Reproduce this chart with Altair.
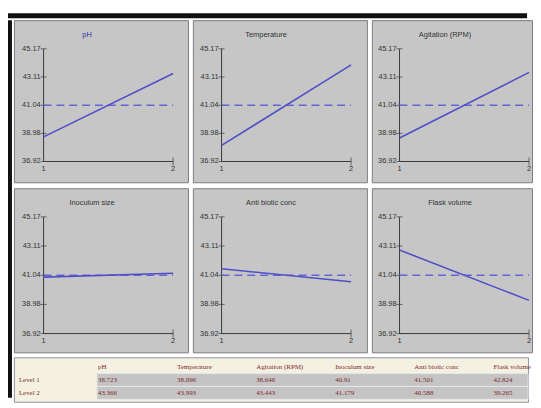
import altair as alt
import pandas as pd

# ---------------- data ----------------
factors = ["pH", "Temperature", "Agitation (RPM)", "Inoculum size", "Anti biotic conc", "Flask volume"]
level1 = [38.723, 38.096, 38.646, 40.91, 41.501, 42.824]
level2 = [43.366, 43.993, 43.443, 41.179, 40.588, 39.265]
grand_mean = 41.04
levels = [1, 2]
level_labels = ["1", "2"]
y_ticks = [36.92, 38.98, 41.04, 43.11, 45.17]
y_tick_labels = ["36.92", "38.98", "41.04", "43.11", "45.17"]
row_labels = ["Level 1", "Level 2"]

# ---------------- styles ----------------
PANEL_FILL = "#c6c6c6"
PANEL_STROKE = "#7c7c7c"
LINE_COL = "#4f4fc8"
MEAN_COL = "#6464d6"
AXIS_COL = "#3a3a3a"
SANS = "Liberation Sans, Arial, sans-serif"
SERIF = "Liberation Serif, Times New Roman, serif"
TAB_TEXT = "#7e2a2a"

AX_LEN = 131  # px between level 1 and level 2
PANEL_W = [176, 176, 162]
PANEL_H = [164, 166]
AX_Y = [(29, 143), (29, 147)]
X_OFF = [30, 29, 28]


def panel(i, col, row):
    w = PANEL_W[col]
    h = PANEL_H[row]
    ax_top, ax_bot = AX_Y[row]
    upp = (y_ticks[-1] - y_ticks[0]) / (ax_bot - ax_top)
    ydom = [y_ticks[0] - (h - ax_bot) * upp, y_ticks[-1] + ax_top * upp]
    x_off = X_OFF[col]
    xdom = [1 - x_off / AX_LEN, 1 + (w - x_off) / AX_LEN]
    xs = alt.Scale(domain=xdom, nice=False, zero=False)
    ys = alt.Scale(domain=ydom, nice=False, zero=False)

    def X(f):
        return alt.X(f, type="quantitative", scale=xs, axis=None)

    def Y(f):
        return alt.Y(f, type="quantitative", scale=ys, axis=None)

    eff = pd.DataFrame({"lv": levels, "v": [level1[i], level2[i]]})
    mean = pd.DataFrame({"lv": levels, "v": [grand_mean, grand_mean]})
    yax = pd.DataFrame({"lv": [levels[0]], "y0": [y_ticks[0]], "y1": [y_ticks[-1]]})
    xax = pd.DataFrame({"l0": [levels[0]], "l1": [levels[1]], "v": [y_ticks[0]]})
    yt = pd.DataFrame({"lv": [levels[0]] * len(y_ticks), "v": y_ticks, "t": y_tick_labels})
    xt = pd.DataFrame({"lv": levels, "v": [y_ticks[0]] * 2, "t": level_labels})
    end_tick = pd.DataFrame({"lv": [levels[1]], "v": [y_ticks[0]]})
    ttl = pd.DataFrame({
        "lv": [xdom[0] + (74 if row == 0 else 79) / AX_LEN],
        "v": [ydom[1] - 15 * upp],
        "t": [factors[i]],
    })

    layers = [
        alt.Chart(yax).mark_rule(color=AXIS_COL, strokeWidth=1).encode(x=X("lv"), y=Y("y0"), y2="y1"),
        alt.Chart(xax).mark_rule(color=AXIS_COL, strokeWidth=1).encode(x=X("l0"), x2="l1", y=Y("v")),
        alt.Chart(yt).mark_tick(orient="horizontal", size=6, thickness=1, color=AXIS_COL).encode(x=X("lv"), y=Y("v")),
        alt.Chart(end_tick).mark_tick(orient="vertical", size=8, thickness=1, color=AXIS_COL).encode(x=X("lv"), y=Y("v")),
        alt.Chart(yt).mark_text(align="right", baseline="middle", dx=-3, font=SANS, fontSize=7.5, color="#333333").encode(
            x=X("lv"), y=Y("v"), text="t:N"),
        alt.Chart(xt).mark_text(align="center", baseline="middle", dy=8, font=SANS, fontSize=7.5, color="#333333").encode(
            x=X("lv"), y=Y("v"), text="t:N"),
        alt.Chart(mean).mark_line(color=MEAN_COL, strokeWidth=1.6, strokeDash=[8, 5]).encode(x=X("lv"), y=Y("v")),
        alt.Chart(eff).mark_line(color=LINE_COL, strokeWidth=1.6).encode(x=X("lv"), y=Y("v")),
        alt.Chart(ttl).mark_text(align="center", baseline="middle", font=SANS, fontSize=7.5,
                                 color="#3434a8" if i == 0 else "#333333").encode(x=X("lv"), y=Y("v"), text="t:N"),
    ]
    return alt.layer(*layers).properties(
        width=w, height=h, view=alt.ViewBackground(fill=PANEL_FILL, stroke=PANEL_STROKE, strokeWidth=1)
    )


def bar(w, h, color):
    unit = alt.Scale(domain=[0, 1], nice=False, zero=False)
    return alt.Chart(pd.DataFrame({"a": [0], "b": [1]})).mark_rect(color=color).encode(
        x=alt.X("a:Q", scale=unit, axis=None), x2="b:Q",
        y=alt.Y("a:Q", scale=unit, axis=None), y2="b:Q",
    ).properties(width=w, height=h, view=alt.ViewBackground(strokeWidth=0))


# ---------------- table ----------------
TW, TH = sum(PANEL_W) + 6, 45
COLW = 80
ROWH = 13
tx = alt.Scale(domain=[-5 / COLW, (TW - 5) / COLW], nice=False, zero=False)
ty = alt.Scale(domain=[-10 / ROWH, (TH - 10) / ROWH], nice=False, zero=False, reverse=True)

cells = []
for c, f in enumerate(factors, start=1):
    cells.append({"c": c, "r": 0, "t": f})
for r, (lab, vals) in enumerate(zip(row_labels, [level1, level2]), start=1):
    cells.append({"c": 0, "r": r, "t": lab})
    for c, v in enumerate(vals, start=1):
        cells.append({"c": c, "r": r, "t": str(v)})
cells = pd.DataFrame(cells)

gray = pd.DataFrame({"r": [1, 2]})
table = alt.layer(
    alt.Chart(gray).transform_calculate(
        x0=str(79 / COLW), x1=str((TW - 5) / COLW), y0="datum.r - 0.5", y1="datum.r + 0.5"
    ).mark_rect(fill="#c4c4c4", stroke="#e6e6e6", strokeWidth=1).encode(
        x=alt.X("x0:Q", scale=tx, axis=None), x2="x1:Q",
        y=alt.Y("y0:Q", scale=ty, axis=None), y2="y1:Q"),
    alt.Chart(cells).mark_text(align="left", baseline="middle", font=SERIF, fontSize=7, color=TAB_TEXT).encode(
        x=alt.X("c:Q", scale=tx, axis=None), y=alt.Y("r:Q", scale=ty, axis=None), text="t:N"),
).properties(width=TW, height=TH, view=alt.ViewBackground(fill="#f4f1e2", stroke="#8a96aa", strokeWidth=1))

row1 = alt.hconcat(panel(0, 0, 0), panel(1, 1, 0), panel(2, 2, 0), spacing=3)
row2 = alt.hconcat(panel(3, 0, 1), panel(4, 1, 1), panel(5, 2, 1), spacing=3)
body = alt.vconcat(alt.vconcat(row1, row2, spacing=4), table, spacing=3)
BODY_H = PANEL_H[0] + 4 + PANEL_H[1] + 3 + TH
middle = alt.hconcat(bar(4, BODY_H, "#111111"), body, spacing=1)

chart = alt.vconcat(bar(4 + 1 + TW, 5, "#111111"), middle, spacing=1).properties(
    padding={"left": 0, "top": 3, "right": 0, "bottom": 0}
).configure(background="white")

chart.save("out.html", embed_options={"renderer": "svg", "actions": False})
